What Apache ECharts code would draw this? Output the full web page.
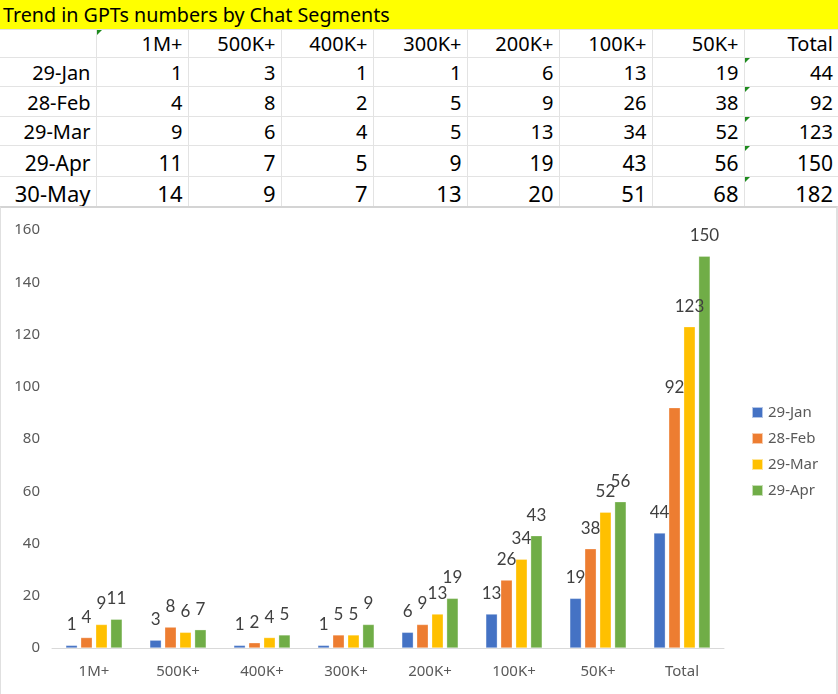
<!DOCTYPE html>
<html>
<head>
<meta charset="utf-8">
<script src="https://cdn.jsdelivr.net/npm/echarts@6/dist/echarts.min.js"></script>
<style>
  html, body { margin: 0; padding: 0; background: #fff; }
  body { width: 838px; height: 694px; position: relative; overflow: hidden; font-family: "Noto Sans", "Open Sans", sans-serif; }
  #title { position: absolute; left: 0; top: 0; width: 838px; height: 29px; background: #ffff00; color: #000; font-size: 19.7px; line-height: 29px; padding-left: 3px; box-sizing: border-box; white-space: nowrap; }
  #tbl { position: absolute; left: 0; top: 29px; border-collapse: collapse; table-layout: fixed; }
  #tbl td { border: 1px solid #e3e3e3; padding: 0 5px 0 0; text-align: right; vertical-align: bottom; font-size: 20px; color: #000; position: relative; white-space: nowrap; overflow: visible; box-sizing: border-box; line-height: 26px; }
  #tbl tr:first-child td { border-top: none; }
  #tbl td:first-child { border-left: none; }
  #tbl td:last-child { border-right: none; }
  .flag::before { content: ""; position: absolute; left: 0; top: 0; width: 0; height: 0; border-top: 5px solid #1e8b1e; border-right: 5px solid transparent; }
  #chartBox { position: absolute; left: 0; top: 206px; width: 838px; height: 488px; border-top: 2px solid #d4d4d4; border-left: 1px solid #e0e0e0; border-right: 2px solid #e0e0e0; box-sizing: border-box; }
  #chart { position: absolute; left: 0; top: 208px; width: 838px; height: 486px; }
</style>
</head>
<body>
<div id="title">Trend in GPTs numbers by Chat Segments</div>
<table id="tbl"></table>
<div id="chartBox"></div>
<div id="chart"></div>
<script>
// ---- data ----
const segments = ['1M+', '500K+', '400K+', '300K+', '200K+', '100K+', '50K+', 'Total'];
const dates = ['29-Jan', '28-Feb', '29-Mar', '29-Apr', '30-May'];
const jan = [1, 3, 1, 1, 6, 13, 19, 44];
const feb = [4, 8, 2, 5, 9, 26, 38, 92];
const mar = [9, 6, 4, 5, 13, 34, 52, 123];
const apr = [11, 7, 5, 9, 19, 43, 56, 150];
const may = [14, 9, 7, 13, 20, 51, 68, 182];
const tableRows = [jan, feb, mar, apr, may];
const chartDates = ['29-Jan', '28-Feb', '29-Mar', '29-Apr'];
const chartRows = [jan, feb, mar, apr];
const yTicks = [0, 20, 40, 60, 80, 100, 120, 140, 160];

// ---- table ----
const colW = [96, 92, 93, 92, 94, 92, 93, 92, 94];
const rowH = [28, 29, 30, 29, 31, 30];
const rowFont = [20, 20, 20, 20, 21, 22];
const tbl = document.getElementById('tbl');
const cg = document.createElement('colgroup');
colW.forEach(w => { const c = document.createElement('col'); c.style.width = w + 'px'; cg.appendChild(c); });
tbl.appendChild(cg);
function addRow(cells, h, fs, flags) {
  const tr = document.createElement('tr');
  tr.style.height = h + 'px';
  cells.forEach((v, i) => {
    const td = document.createElement('td');
    td.textContent = v;
    td.style.height = h + 'px';
    td.style.fontSize = fs + 'px';
    if (flags.indexOf(i) >= 0) td.className = 'flag';
    tr.appendChild(td);
  });
  tbl.appendChild(tr);
}
addRow([''].concat(segments), rowH[0], rowFont[0], [1]);
tableRows.forEach((r, k) => addRow([dates[k]].concat(r), rowH[k + 1], rowFont[k + 1], [8]));

// ---- chart ----
const colors = ['#4472C4', '#ED7D31', '#FFC000', '#70AD47'];
const chart = echarts.init(document.getElementById('chart'));
const axisFont = '"Noto Sans", "Open Sans", sans-serif';
const labelFont = 'Lato, "Open Sans", sans-serif';
chart.setOption({
  animation: false,
  textStyle: { fontFamily: axisFont },
  color: colors,
  grid: { left: 52, right: 114, top: 22, bottom: 46, containLabel: false },
  legend: {
    orient: 'vertical', left: 746, top: 192,
    itemWidth: 11, itemHeight: 11, itemGap: 11,
    icon: 'rect',
    textStyle: { color: '#595959', fontSize: 15, fontFamily: axisFont },
    data: chartDates
  },
  xAxis: {
    type: 'category', data: segments,
    axisLine: { lineStyle: { color: '#d9d9d9', width: 1 } },
    axisTick: { show: false },
    axisLabel: { color: '#595959', fontSize: 15, margin: 16, fontFamily: axisFont }
  },
  yAxis: {
    type: 'value', min: yTicks[0], max: yTicks[yTicks.length - 1], interval: 20,
    axisLine: { show: false }, axisTick: { show: false }, splitLine: { show: false },
    axisLabel: { color: '#595959', fontSize: 15, margin: 12, fontFamily: axisFont }
  },
  series: chartDates.map((d, i) => ({
    name: d, type: 'bar', data: chartRows[i],
    barWidth: 11.5, barGap: '30%',
    itemStyle: { color: colors[i], borderColor: 'rgba(255,255,255,0.6)', borderWidth: 0.5 },
    label: { show: true, position: 'top', distance: 12, color: '#404040', fontSize: 17, fontFamily: labelFont }
  }))
});
</script>
</body>
</html>
